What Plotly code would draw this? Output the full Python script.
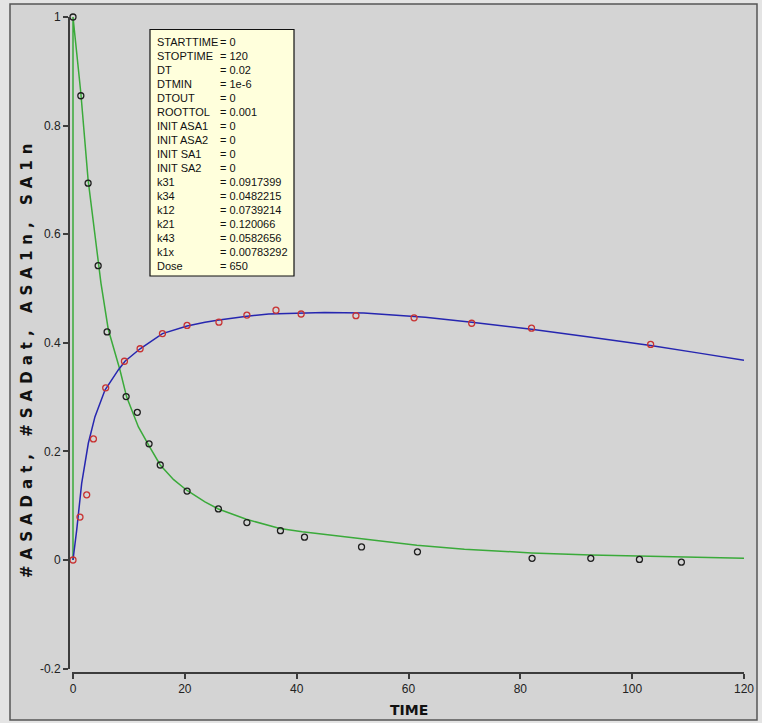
import plotly.graph_objects as go

# ---------------- data ----------------
asa_dat_t = [0, 1.4, 2.7, 4.5, 6.1, 9.5, 11.5, 13.6, 15.6, 20.4, 26.0, 31.1, 37.1, 41.4,
             51.6, 61.6, 82.1, 92.6, 101.3, 108.8]
asa_dat_y = [1.0, 0.855, 0.694, 0.542, 0.420, 0.301, 0.272, 0.214, 0.175, 0.127, 0.094,
             0.069, 0.054, 0.042, 0.024, 0.015, 0.003, 0.003, 0.001, -0.004]

sa_dat_t = [0, 1.25, 2.45, 3.65, 5.85, 9.2, 12.0, 16.0, 20.4, 26.1, 31.1, 36.3, 40.8,
            50.6, 61.0, 71.3, 82.0, 103.3]
sa_dat_y = [0.0, 0.079, 0.120, 0.223, 0.317, 0.366, 0.389, 0.417, 0.432, 0.438, 0.451,
            0.460, 0.453, 0.450, 0.446, 0.436, 0.427, 0.397]

asa1n_t = [0, 0, 0.5, 1.4, 2.7, 3.8, 5.0, 6.3, 8.4, 9.6, 11.7, 13.6, 15.6, 18.0, 20.4,
           23.6, 26.0, 31.0, 37.0, 41.0, 51.5, 61.5, 70.0, 82.0, 92.6, 101.0, 110.0, 120.0]
asa1n_y = [0, 1.0, 0.95, 0.86, 0.70, 0.61, 0.51, 0.425, 0.35, 0.30, 0.245, 0.21, 0.175,
           0.148, 0.128, 0.107, 0.094, 0.075, 0.058, 0.052, 0.039, 0.027, 0.020, 0.013,
           0.009, 0.007, 0.005, 0.003]

sa1n_t = [0, 0.66, 1.55, 2.74, 3.93, 5.72, 8.1, 9.3, 12.0, 16.0, 20.4, 23.6, 26.1, 31.1,
          35.0, 40.0, 45.0, 52.0, 57.0, 63.0, 71.3, 82.0, 92.0, 103.3, 112.0, 120.0]
sa1n_y = [0, 0.055, 0.141, 0.215, 0.264, 0.313, 0.350, 0.366, 0.389, 0.417, 0.431, 0.438,
          0.442, 0.449, 0.453, 0.455, 0.456, 0.455, 0.451, 0.447, 0.438, 0.425, 0.411,
          0.395, 0.381, 0.368]

x_ticks = [0, 20, 40, 60, 80, 100, 120]
x_ticktext = ["0", "20", "40", "60", "80", "100", "120"]
y_ticks = [-0.2, 0, 0.2, 0.4, 0.6, 0.8, 1]
y_ticktext = ["-0.2", "0", "0.2", "0.4", "0.6", "0.8", "1"]

param_names = ["STARTTIME", "STOPTIME", "DT", "DTMIN", "DTOUT", "ROOTTOL", "INIT ASA1",
               "INIT ASA2", "INIT SA1", "INIT SA2", "k31", "k34", "k12", "k21", "k43",
               "k1x", "Dose"]
param_values = ["0", "120", "0.02", "1e-6", "0", "0.001", "0", "0", "0", "0",
                "0.0917399", "0.0482215", "0.0739214", "0.120066", "0.0582656",
                "0.00783292", "650"]

x_title = "TIME"
y_title = "#ASADat, #SADat, ASA1n, SA1n"

# ---------------- layout helpers ----------------
W, H = 762, 723
L, R, T, B = 69, 744, 17, 673


def px(x):
    return (x - L) / (R - L)


def py(y):
    return (B - y) / (B - T)


BG = "#d4d4d4"
AX = "#3c3c3c"

fig = go.Figure()

fig.add_trace(go.Scatter(x=asa1n_t, y=asa1n_y, mode="lines",
                         line=dict(color="#3aaa3a", width=1.5), name="ASA1n"))
fig.add_trace(go.Scatter(x=sa1n_t, y=sa1n_y, mode="lines",
                         line=dict(color="#2626b0", width=1.5), name="SA1n"))
fig.add_trace(go.Scatter(x=asa_dat_t, y=asa_dat_y, mode="markers", cliponaxis=False,
                         marker=dict(symbol="circle-open", size=6, color="#1e1e1e",
                                     line=dict(width=1.3, color="#1e1e1e")),
                         name="#ASADat"))
fig.add_trace(go.Scatter(x=sa_dat_t, y=sa_dat_y, mode="markers", cliponaxis=False,
                         marker=dict(symbol="circle-open", size=6, color="#c83232",
                                     line=dict(width=1.3, color="#c83232")),
                         name="#SADat"))

tick_font = dict(family="Liberation Sans, Arial, sans-serif", size=12, color="#222")

# x-axis: 0 sits at pixel 73, axis line starts one pixel further left
x_lo = -120 / (744 - 73)

fig.update_layout(
    width=W, height=H,
    margin=dict(l=L, r=W - R, t=T, b=H - B, pad=0, autoexpand=False),
    paper_bgcolor="#e4e4e4",
    plot_bgcolor=BG,
    showlegend=False,
    xaxis=dict(range=[x_lo, 120], domain=[px(72), 1], anchor="free", position=0,
               showgrid=False, zeroline=False, showline=True, linecolor=AX, linewidth=2,
               ticks="outside", ticklen=5, tickwidth=1.5, tickcolor=AX,
               tickvals=x_ticks, ticktext=x_ticktext, tickfont=tick_font,
               automargin=False),
    yaxis=dict(range=[-0.2, 1], domain=[py(668.6), 1], anchor="free", position=0,
               showgrid=False, zeroline=False, showline=True, linecolor=AX, linewidth=2,
               ticks="outside", ticklen=5, tickwidth=1.5, tickcolor=AX,
               tickvals=y_ticks, ticktext=y_ticktext, tickfont=tick_font,
               automargin=False),
)

# window frame
fig.add_shape(type="rect", xref="paper", yref="paper",
              x0=px(10), x1=px(757), y0=py(720), y1=py(4),
              line=dict(color="#555555", width=1.5), fillcolor=BG, layer="below")

# parameter box
fig.add_shape(type="rect", xref="paper", yref="paper",
              x0=px(150), x1=px(294), y0=py(276), y1=py(29.5),
              line=dict(color="#111111", width=1.2), fillcolor="#ffffdc", layer="above")

box_font = dict(family="Liberation Sans, Arial, sans-serif", size=11, color="#111")
for i, (nm, val) in enumerate(zip(param_names, param_values)):
    yc = 41.7 + 14 * i
    fig.add_annotation(xref="paper", yref="paper", x=px(155), y=py(yc), text=nm,
                       showarrow=False, xanchor="left", yanchor="middle", font=box_font)
    fig.add_annotation(xref="paper", yref="paper", x=px(218), y=py(yc), text="= " + val,
                       showarrow=False, xanchor="left", yanchor="middle", font=box_font)

# axis titles
fig.add_annotation(xref="paper", yref="paper", x=px(409), y=py(710),
                   text="<b>" + x_title + "</b>", showarrow=False,
                   xanchor="center", yanchor="middle",
                   font=dict(family="DejaVu Sans, sans-serif", size=14, color="#111"))
fig.add_annotation(xref="paper", yref="paper", x=px(27), y=py(358),
                   text='<span style="letter-spacing:6px"><b>' + y_title + "</b></span>",
                   showarrow=False, textangle=-90, xanchor="center", yanchor="middle",
                   font=dict(family="DejaVu Sans, sans-serif", size=15, color="#111"))

fig.write_html(
    "out.html",
    config={"displayModeBar": False},
    post_script="document.body.style.margin='0';document.body.style.padding='0';"
                "document.body.style.overflow='hidden';",
)
